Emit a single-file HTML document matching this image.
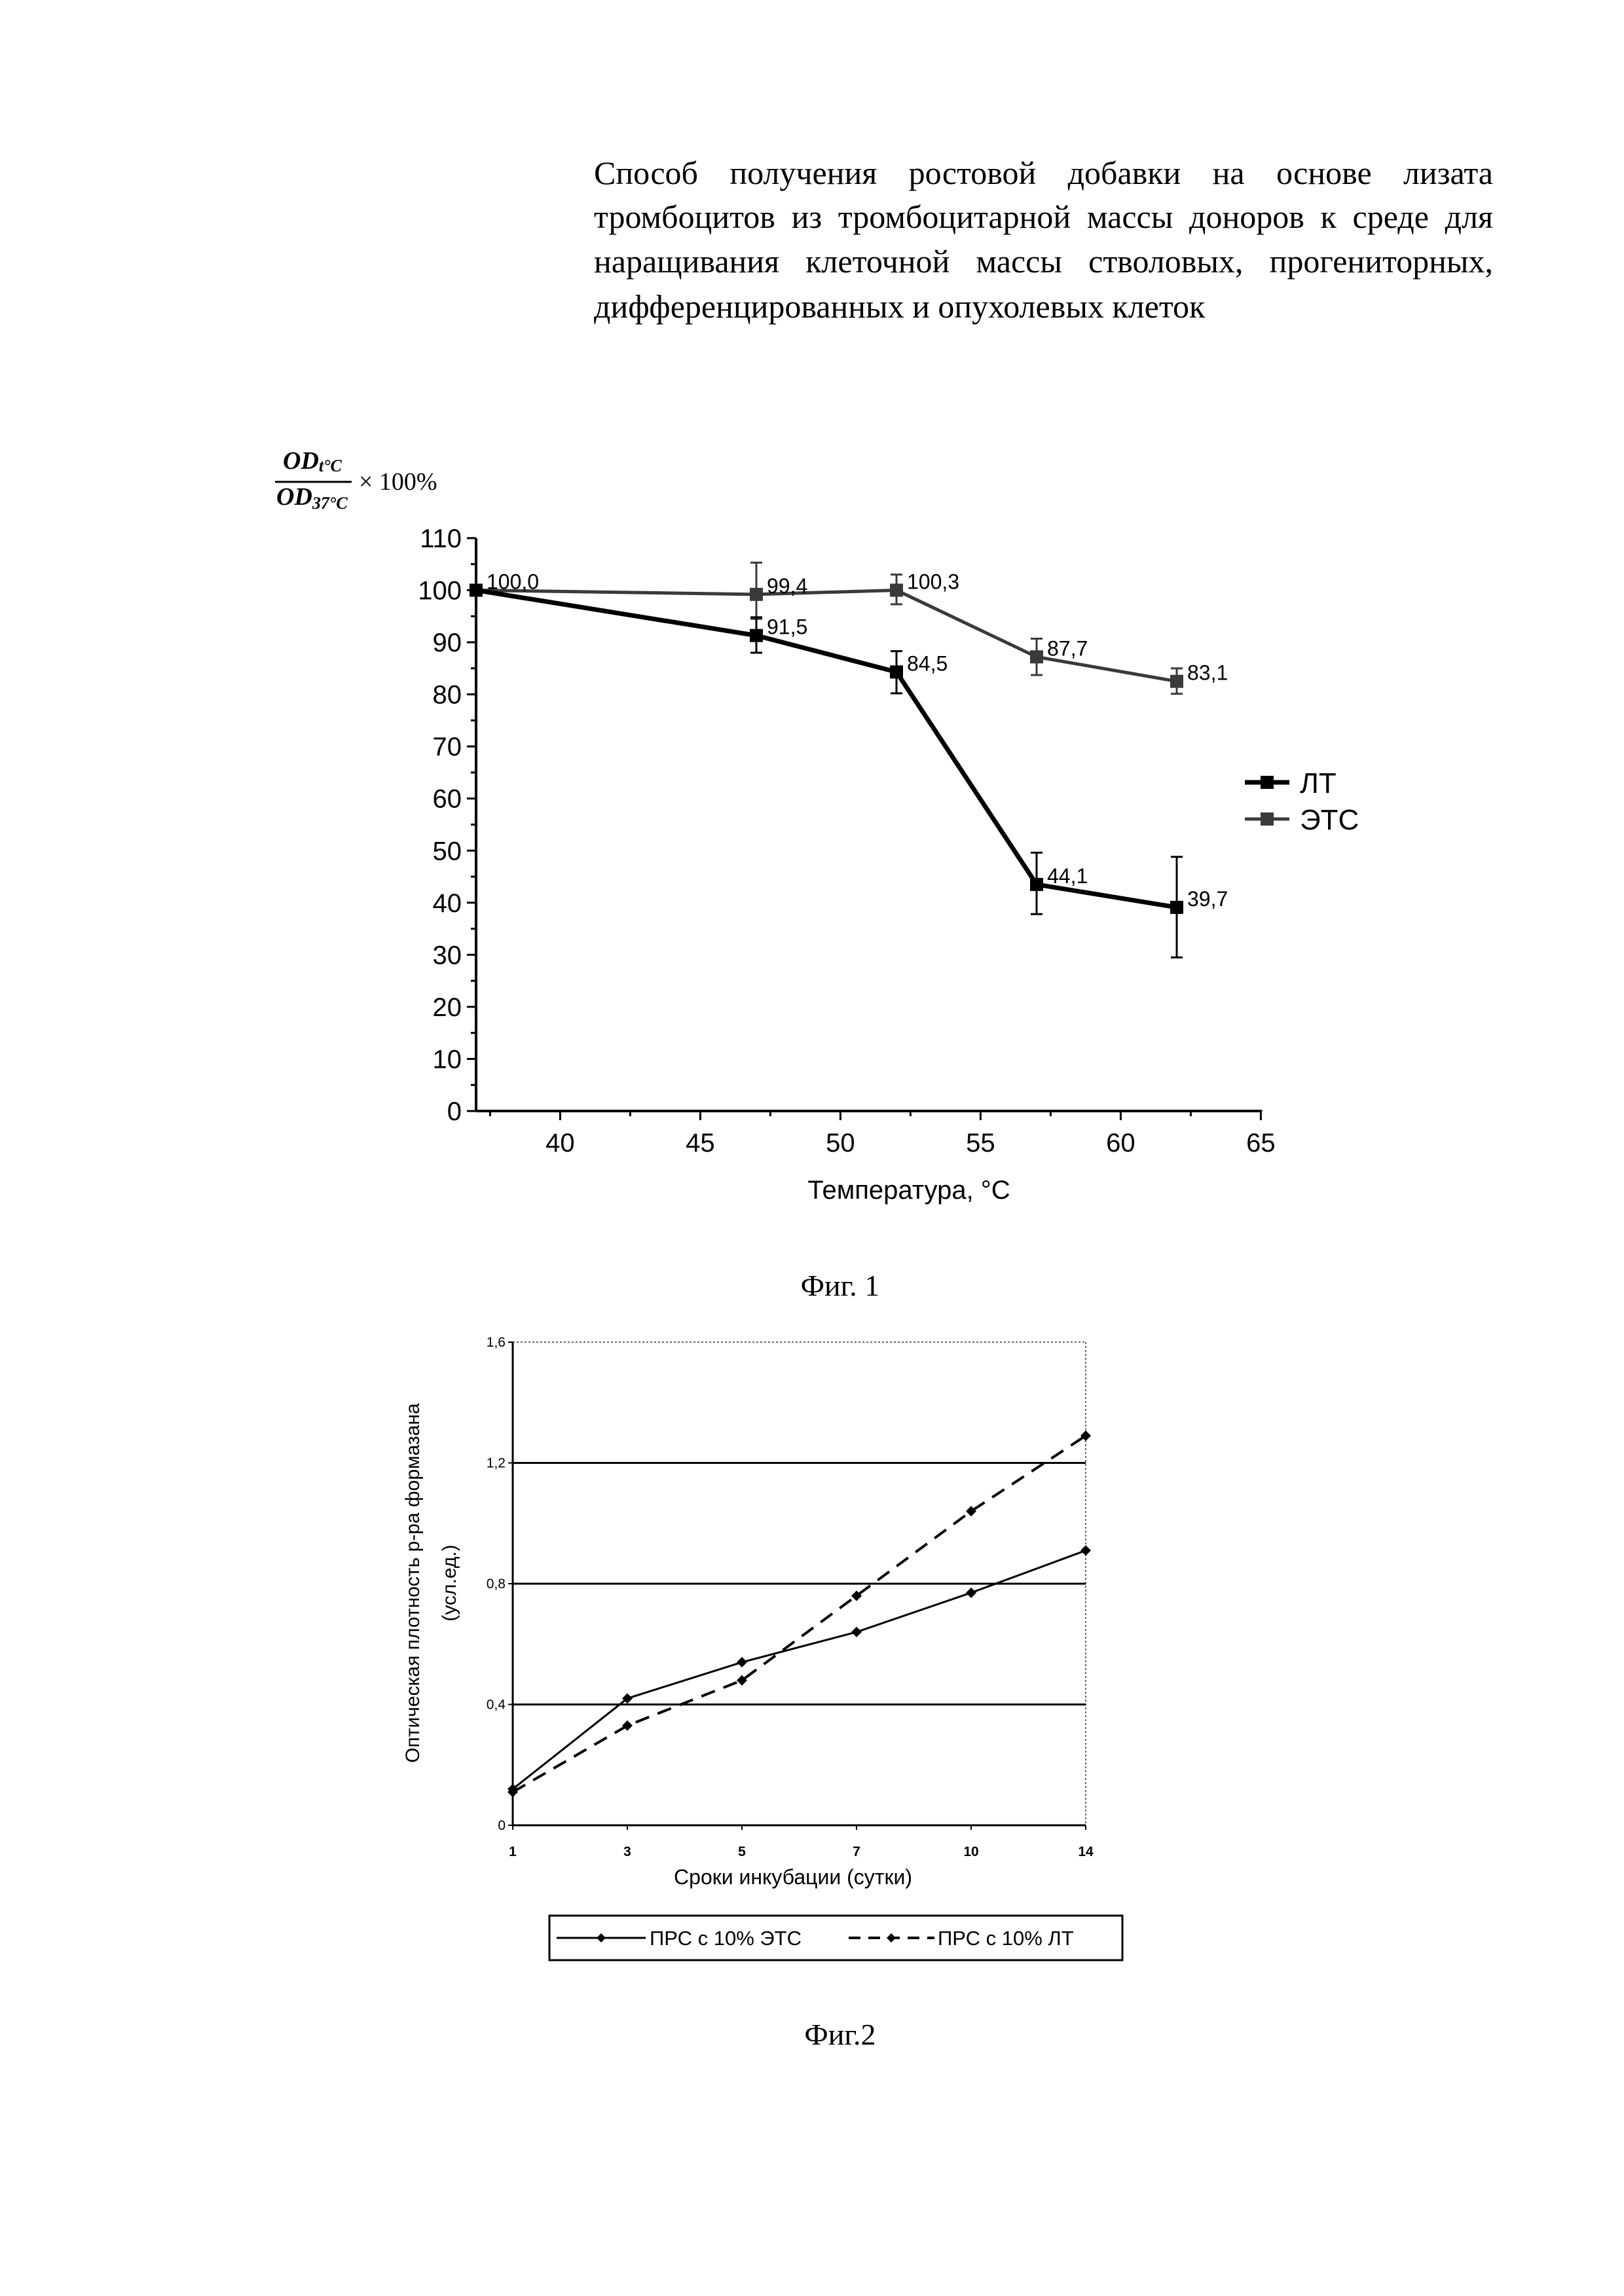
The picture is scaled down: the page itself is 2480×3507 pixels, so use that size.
<!DOCTYPE html>
<html><head><meta charset="utf-8">
<style>
html,body{margin:0;padding:0;background:#fff;}
body{width:2480px;height:3507px;position:relative;overflow:hidden;}
.t{position:absolute;left:907px;width:1373px;font-family:"Liberation Serif","Noto Serif CJK SC",serif;font-size:50px;line-height:68px;white-space:nowrap;}
.j{text-align:justify;text-align-last:justify;}
svg{position:absolute;left:0;top:0;}
</style></head>
<body>
<div class="t j" style="top:230px">Способ получения ростовой добавки на основе лизата</div>
<div class="t j" style="top:297px">тромбоцитов из тромбоцитарной массы доноров к среде для</div>
<div class="t j" style="top:365px">наращивания клеточной массы стволовых, прогениторных,</div>
<div class="t" style="top:434px">дифференцированных и опухолевых клеток</div>

<svg id="s" width="2480" height="3507" xmlns="http://www.w3.org/2000/svg"></svg>

<script>
// ---------- Figure 1 data ----------
const f1Temps = [37, 47, 52, 57, 62];
const f1LT = [100, 91.3, 84.3, 43.5, 39.1];
const f1LTLabels = ["100,0", "91,5", "84,5", "44,1", "39,7"];
const f1LTErrLo = [100, 88, 80.2, 37.8, 29.5];
const f1LTErrHi = [100, 94.8, 88.3, 49.6, 48.8];
const f1ETS = [100, 99.2, 100, 87.2, 82.5];
const f1ETSLabels = ["", "99,4", "100,3", "87,7", "83,1"];
const f1ETSErrLo = [100, 94.5, 97.3, 83.7, 80.1];
const f1ETSErrHi = [100, 105.3, 103, 90.7, 85];
const f1YTicks = [0,10,20,30,40,50,60,70,80,90,100,110];
const f1XTicks = [40,45,50,55,60,65];

// ---------- Figure 2 data ----------
const f2Cats = ["1","3","5","7","10","14"];
const f2ETS = [0.12, 0.42, 0.54, 0.64, 0.77, 0.91];
const f2LT = [0.11, 0.33, 0.48, 0.76, 1.04, 1.29];
const f2YTicks = [0, 0.4, 0.8, 1.2, 1.6];
const f2YLabels = ["0","0,4","0,8","1,2","1,6"];

const NS="http://www.w3.org/2000/svg";
const svg=document.getElementById('s');
function mk(tag,attrs,parent){const e=document.createElementNS(NS,tag);for(const k in attrs)e.setAttribute(k,attrs[k]);(parent||svg).appendChild(e);return e;}

// ===== Fig 1 =====
const x1=v=>727+(v-37)*42.8;
const y1=v=>1697-v*7.955;
const g1=mk('g',{});


let a=mk('line',{x1:x1(37),y1:y1(110),x2:x1(37),y2:y1(0),stroke:'#000','stroke-width':4},g1);

a=mk('line',{x1:x1(37),y1:y1(0),x2:x1(65)+2,y2:y1(0),stroke:'#000','stroke-width':4},g1);

for(let v=0;v<=110;v+=5){
  const maj=v%10===0;
  mk('line',{x1:x1(37)-(maj?14:8),y1:y1(v),x2:x1(37),y2:y1(v),stroke:'#000','stroke-width':3},g1);
}
f1YTicks.forEach(v=>{
  const t=mk('text',{x:x1(37)-22,y:y1(v)+14,'text-anchor':'end','font-family':'Liberation Sans, sans-serif','font-size':40},g1);
  t.textContent=v;
  
});
for(let v=37.5;v<=65;v+=2.5){
  const maj=v%5===0;
  mk('line',{x1:x1(v),y1:y1(0),x2:x1(v),y2:y1(0)+(maj?14:8),stroke:'#000','stroke-width':3},g1);
}
f1XTicks.forEach(v=>{
  const t=mk('text',{x:x1(v),y:1759,'text-anchor':'middle','font-family':'Liberation Sans, sans-serif','font-size':40},g1);
  t.textContent=v;
  
});
let tt=mk('text',{x:1388,y:1831,'text-anchor':'middle','font-family':'Liberation Sans, sans-serif','font-size':40},g1);
tt.textContent='Температура, °C';

const yt=mk('g',{'font-family':'Liberation Serif, serif','font-size':38},g1);

let n=mk('text',{x:432,y:716,'font-style':'italic','font-weight':'bold'},yt);n.innerHTML='OD<tspan font-size="26" dy="4">t°C</tspan>';
mk('line',{x1:420,y1:736,x2:537,y2:736,stroke:'#000','stroke-width':3},yt);
n=mk('text',{x:422,y:771,'font-style':'italic','font-weight':'bold'},yt);n.innerHTML='OD<tspan font-size="26" dy="6">37°C</tspan>';
n=mk('text',{x:548,y:748},yt);n.textContent='× 100%';

function series1(vals,lo,hi,labels,color,width,name){
  const g=mk('g',{},g1);
  
  const pts=f1Temps.map((t,i)=>x1(t)+','+y1(vals[i])).join(' ');
  mk('polyline',{points:pts,fill:'none',stroke:color,'stroke-width':width},g);
  f1Temps.forEach((t,i)=>{
    const cx=x1(t);
    if(hi[i]!==lo[i]){
      mk('line',{x1:cx,y1:y1(hi[i]),x2:cx,y2:y1(lo[i]),stroke:color,'stroke-width':3},g);
      mk('line',{x1:cx-9,y1:y1(hi[i]),x2:cx+9,y2:y1(hi[i]),stroke:color,'stroke-width':3},g);
      mk('line',{x1:cx-9,y1:y1(lo[i]),x2:cx+9,y2:y1(lo[i]),stroke:color,'stroke-width':3},g);
    }
    const m=mk('rect',{x:cx-10,y:y1(vals[i])-10,width:20,height:20,fill:color},g);
    
    if(labels[i]){
      const l=mk('text',{x:cx+16,y:y1(vals[i])-2,'font-family':'Liberation Sans, sans-serif','font-size':32},g);
      l.textContent=labels[i];
      
    }
  });
}
series1(f1ETS,f1ETSErrLo,f1ETSErrHi,f1ETSLabels,'#3a3a3a',5,'series-ets');
series1(f1LT,f1LTErrLo,f1LTErrHi,f1LTLabels,'#000',7,'series-lt');
const lg=mk('g',{},g1);

[['ЛТ','#000',7,1195],['ЭТС','#3a3a3a',5,1251]].forEach(([lab,c,w,y])=>{
  const e=mk('g',{},lg);
  
  mk('line',{x1:1901,y1:y,x2:1969,y2:y,stroke:c,'stroke-width':w},e);
  mk('rect',{x:1925,y:y-10,width:20,height:20,fill:c},e);
  const t=mk('text',{x:1985,y:y+16,'font-family':'Liberation Sans, sans-serif','font-size':44},e);t.textContent=lab;
});
tt=mk('text',{x:1283,y:1979,'text-anchor':'middle','font-family':'Liberation Serif, serif','font-size':46});
tt.textContent='Фиг. 1';


// ===== Fig 2 =====
const x2=i=>783+i*(1658-783)/(f2Cats.length-1);
const y2=v=>2788-v*(2788-2050)/1.6;
const g2=mk('g',{});

mk('line',{x1:783,y1:y2(1.6),x2:1658,y2:y2(1.6),stroke:'#666','stroke-width':2,'stroke-dasharray':'3 3'},g2);
mk('line',{x1:1658,y1:y2(1.6),x2:1658,y2:y2(0),stroke:'#666','stroke-width':2,'stroke-dasharray':'3 3'},g2);
f2YTicks.forEach((v,i)=>{
  if(v>0&&v<1.6){
    const gl=mk('line',{x1:783,y1:y2(v),x2:1658,y2:y2(v),stroke:'#000','stroke-width':3},g2);
    
  }
  mk('line',{x1:776,y1:y2(v),x2:783,y2:y2(v),stroke:'#000','stroke-width':2},g2);
  const t=mk('text',{x:772,y:y2(v)+7,'text-anchor':'end','font-family':'Liberation Sans, sans-serif','font-size':21},g2);
  t.textContent=f2YLabels[i];
  
});
a=mk('line',{x1:783,y1:y2(1.6),x2:783,y2:y2(0),stroke:'#000','stroke-width':3},g2);

a=mk('line',{x1:783,y1:y2(0),x2:1658,y2:y2(0),stroke:'#000','stroke-width':3},g2);

f2Cats.forEach((c,i)=>{
  mk('line',{x1:x2(i),y1:y2(0),x2:x2(i),y2:y2(0)+7,stroke:'#000','stroke-width':2},g2);
  const t=mk('text',{x:x2(i),y:2835,'text-anchor':'middle','font-family':'Liberation Sans, sans-serif','font-size':21,'font-weight':'bold'},g2);
  t.textContent=c;
  
});
tt=mk('text',{x:1211,y:2878,'text-anchor':'middle','font-family':'Liberation Sans, sans-serif','font-size':32},g2);
tt.textContent='Сроки инкубации (сутки)';

tt=mk('text',{x:0,y:0,'text-anchor':'middle','font-family':'Liberation Sans, sans-serif','font-size':30,transform:'translate(640,2418) rotate(-90)'},g2);
tt.textContent='Оптическая плотность р-ра формазана';

tt=mk('text',{x:0,y:0,'text-anchor':'middle','font-family':'Liberation Sans, sans-serif','font-size':30,transform:'translate(696,2418) rotate(-90)'},g2);
tt.textContent='(усл.ед.)';


function series2(vals,dash,w,name){
  const g=mk('g',{},g2);
  
  const pts=vals.map((v,i)=>x2(i)+','+y2(v)).join(' ');
  const at={points:pts,fill:'none',stroke:'#000','stroke-width':w};
  if(dash)at['stroke-dasharray']=dash;
  mk('polyline',at,g);
  vals.forEach((v,i)=>{
    const cx=x2(i),cy=y2(v);
    const m=mk('polygon',{points:`${cx},${cy-8} ${cx+8},${cy} ${cx},${cy+8} ${cx-8},${cy}`,fill:'#000'},g);
    
  });
}
series2(f2ETS,null,3,'series-ets');
series2(f2LT,'22 14',4,'series-lt');
const l2=mk('g',{},g2);

mk('rect',{x:839,y:2926,width:875,height:68,fill:'none',stroke:'#000','stroke-width':3},l2);
mk('line',{x1:850,y1:2960,x2:986,y2:2960,stroke:'#000','stroke-width':3},l2);
mk('polygon',{points:'918,2953 925,2960 918,2967 911,2960',fill:'#000'},l2);
let lt=mk('text',{x:992,y:2971,'font-family':'Liberation Sans, sans-serif','font-size':31},l2);lt.textContent='ПРС с 10% ЭТС';
mk('line',{x1:1296,y1:2960,x2:1427,y2:2960,stroke:'#000','stroke-width':4,'stroke-dasharray':'18 12'},l2);
mk('polygon',{points:'1361,2953 1368,2960 1361,2967 1354,2960',fill:'#000'},l2);
lt=mk('text',{x:1432,y:2971,'font-family':'Liberation Sans, sans-serif','font-size':31},l2);lt.textContent='ПРС с 10% ЛТ';
tt=mk('text',{x:1283,y:3123,'text-anchor':'middle','font-family':'Liberation Serif, serif','font-size':46});
tt.textContent='Фиг.2';

</script>
</body></html>
